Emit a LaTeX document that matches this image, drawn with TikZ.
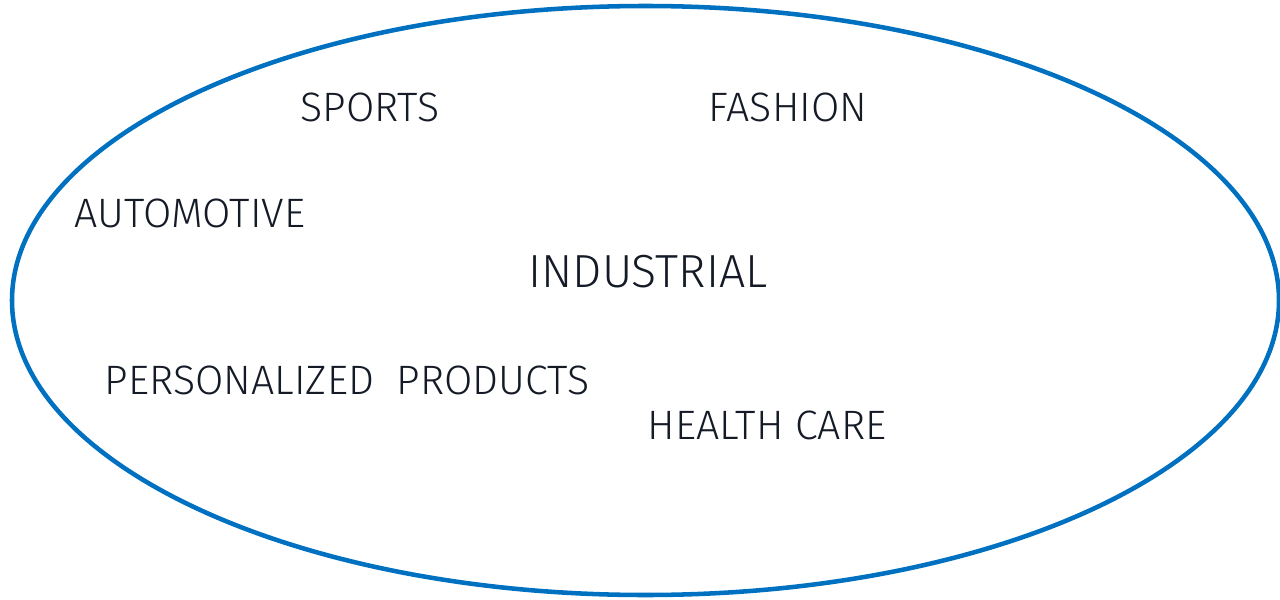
\documentclass[tikz,border=0pt]{standalone}
\usepackage{fontspec}
\setmainfont{Fira Sans}[UprightFont=* Light]
\usepackage{tikz}
\usetikzlibrary{positioning}
\definecolor{ringblue}{RGB}{0,112,192}
\definecolor{inkdark}{RGB}{20,26,38}

\begin{document}
\begin{tikzpicture}[x=0.75pt,y=0.75pt,yscale=-1,xscale=1,
  field/.style={text=inkdark,inner sep=0pt,font=\fontsize{30.8}{36}\selectfont},
  core/.style={text=inkdark,inner sep=0pt,font=\fontsize{34.8}{40}\selectfont}]
\useasboundingbox (0,0) rectangle (1280,599);

%Shape: Ellipse [id:ring]
\draw [color=ringblue, line width=3.4pt] (645.5,300.5) ellipse [x radius=633.5, y radius=294.5];

% Text Node
\node [core] (industrial) at (648,272) {INDUSTRIAL};
% Text Node
\node [field] (sports) at (370,107) {SPORTS};
% Text Node
\node [field] (fashion) at (788,107) {FASHION};
% Text Node
\node [field] (automotive) at (190,213) {AUTOMOTIVE};
% Text Node
\node [field] (personal) at (347,380) {PERSONALIZED\ \ PRODUCTS};
% Text Node
\node [field] (health) at (767,425) {HEALTH CARE};

\end{tikzpicture}
\end{document}
